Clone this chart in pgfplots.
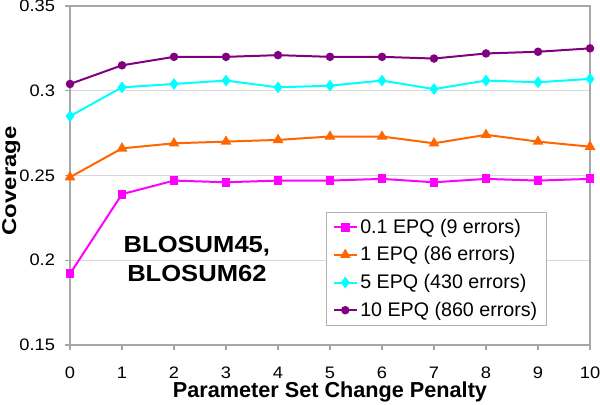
\documentclass[border=0pt]{standalone}
\usepackage{pgfplots}
\pgfplotsset{compat=1.18}
\usepackage{fontspec}
\setmainfont{Liberation Sans}
\newfontfamily\midfont[FakeStretch=1.1]{Liberation Sans}
\newfontfamily\ylfont[FakeStretch=1.2]{Liberation Sans}
\definecolor{cMag}{HTML}{FF00FF}
\definecolor{cOra}{HTML}{FF6600}
\definecolor{cCya}{HTML}{00FFFF}
\definecolor{cPur}{HTML}{800080}
\begin{document}
\begin{tikzpicture}[x=1bp,y=1bp]
\useasboundingbox (0,0) rectangle (450,303);
\begin{axis}[
  at={(52.5bp,44.25bp)}, anchor=south west,
  scale only axis,
  width=390bp, height=254.25bp,
  xmin=0, xmax=10, ymin=0.15, ymax=0.35,
  xtick={0,1,...,10},
  ytick={0.15,0.2,0.25,0.3,0.35},
  yticklabels={0.15,0.2,0.25,0.3,0.35},
  /pgf/number format/assume math mode=true,
  tick label style={font=\midfont\fontsize{12.5}{14}\selectfont},
  xticklabel style={yshift=-9bp},
  yticklabel style={xshift=-4bp},
  axis line style={gray!70, line width=0.8pt},
  tick style={gray!70, line width=0.8pt},
  tick align=outside,
  major tick length=3.75bp,
  xtick pos=bottom, ytick pos=left,
  ymajorgrids, grid style={gray!30, line width=0.6pt},
  xlabel={Parameter Set Change Penalty},
  ylabel={Coverage},
  xlabel style={font=\fontsize{16.3}{18}\selectfont\bfseries,
    at={(axis description cs:0.5,-0.139)}, anchor=center},
  ylabel style={font=\ylfont\fontsize{15}{17}\selectfont\bfseries, inner sep=0pt,
    at={(axis description cs:-0.1308,0.484)}, anchor=north},
  legend style={at={(0.917,0.392)}, anchor=north east, draw=gray!60,
    font=\fontsize{14.8}{17}\selectfont, row sep=4.6bp, inner xsep=5bp, inner ysep=3bp,
    /tikz/every even column/.append style={column sep=1bp}},
  legend cell align=left,
  every axis plot/.append style={line width=1.5pt},
]
\addplot[cMag, mark=square*, mark size=2.6bp] coordinates {
(0,0.192) (1,0.239) (2,0.247) (3,0.246) (4,0.247) (5,0.247) (6,0.248) (7,0.246) (8,0.248) (9,0.247) (10,0.248)};
\addlegendentry{0.1 EPQ (9 errors)}
\addplot[cOra, mark=triangle*, mark size=3.2bp] coordinates {
(0,0.249) (1,0.266) (2,0.269) (3,0.270) (4,0.271) (5,0.273) (6,0.273) (7,0.269) (8,0.274) (9,0.270) (10,0.267)};
\addlegendentry{1 EPQ (86 errors)}
\addplot[cCya, mark=diamond*, mark size=3.2bp] coordinates {
(0,0.285) (1,0.302) (2,0.304) (3,0.306) (4,0.302) (5,0.303) (6,0.306) (7,0.301) (8,0.306) (9,0.305) (10,0.307)};
\addlegendentry{5 EPQ (430 errors)}
\addplot[cPur, mark=*, mark size=2.4bp] coordinates {
(0,0.304) (1,0.315) (2,0.320) (3,0.320) (4,0.321) (5,0.320) (6,0.320) (7,0.319) (8,0.322) (9,0.323) (10,0.325)};
\addlegendentry{10 EPQ (860 errors)}
\node[font=\midfont\fontsize{17.5}{21.5}\selectfont\bfseries, align=center] at (axis cs:2.44,0.2007) {BLOSUM45,\\BLOSUM62};
\end{axis}
\end{tikzpicture}
\end{document}
